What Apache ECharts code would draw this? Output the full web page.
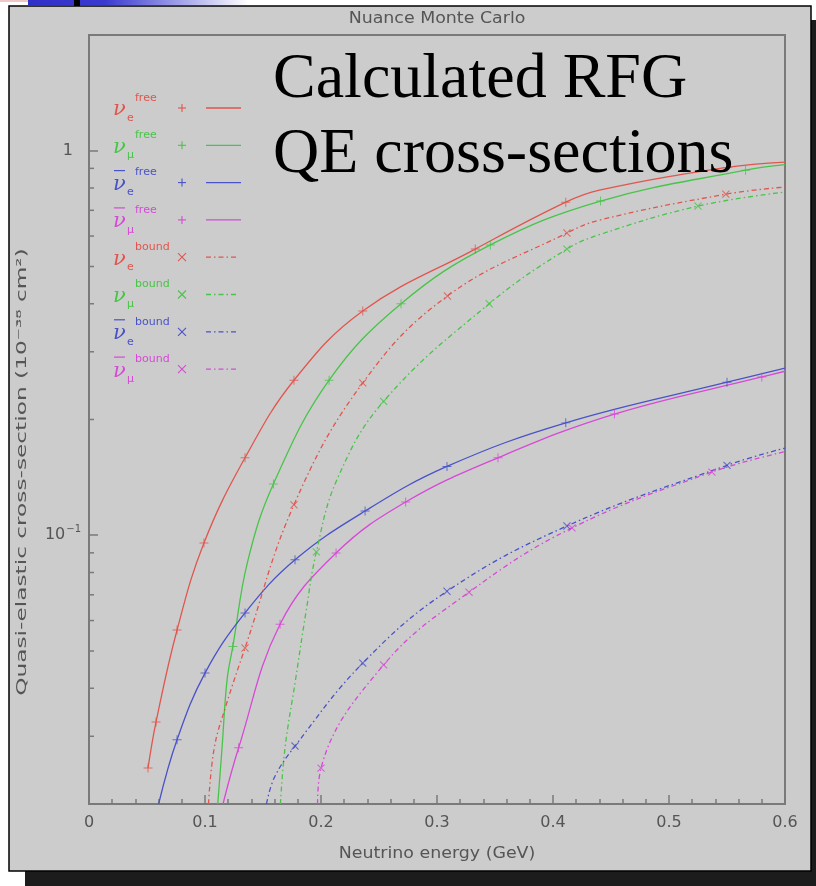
<!DOCTYPE html>
<html><head><meta charset="utf-8">
<script src="https://cdn.jsdelivr.net/npm/echarts@6/dist/echarts.min.js"></script>
<style>html,body{margin:0;padding:0;background:#fff}#c{width:816px;height:886px}</style>
</head><body><div id="c"></div>
<script>
// ---- data ----
const xTickLabels = {0:'0',0.1:'0.1',0.2:'0.2',0.3:'0.3',0.4:'0.4',0.5:'0.5',0.6:'0.6'};
const yMinorTicks = [0.03,0.04,0.05,0.06,0.07,0.08,0.09,0.2,0.3,0.4,0.5,0.6,0.7,0.8,0.9];
const seriesNames = ['nue_free','numu_free','nuebar_free','numubar_free','nue_bound','numu_bound','nuebar_bound','numubar_bound'];
const legendSub = ['e','μ','e','μ','e','μ','e','μ'];
const legendSup = ['free','free','free','free','bound','bound','bound','bound'];
const legendAnti = [false,false,true,true,false,false,true,true];

// calculated curves (energy GeV, cross-section 1e-38 cm^2)
const nueFreeCurve = [[0.0509,0.0248],[0.0578,0.0327],[0.0759,0.0567],[0.0991,0.0955],[0.1345,0.159],[0.1767,0.253],[0.236,0.383],[0.333,0.555],[0.411,0.735],[0.44,0.79],[0.55,0.905],[0.6,0.934]];
const numuFreeCurve = [[0.111,0.02],[0.1147,0.028],[0.119,0.042],[0.124,0.0514],[0.137,0.086],[0.159,0.136],[0.207,0.253],[0.269,0.40],[0.346,0.569],[0.441,0.74],[0.566,0.89],[0.6,0.92]];
const nuebarFreeCurve = [[0.060,0.02],[0.0759,0.0294],[0.100,0.0438],[0.1345,0.0628],[0.1776,0.0863],[0.238,0.1156],[0.3086,0.151],[0.411,0.196],[0.55,0.250],[0.6,0.272]];
const numubarFreeCurve = [[0.1155,0.02],[0.129,0.028],[0.1647,0.0587],[0.213,0.0899],[0.273,0.122],[0.3526,0.159],[0.453,0.2066],[0.58,0.258],[0.6,0.267]];
const nueBoundCurve = [[0.103,0.02],[0.108,0.028],[0.118,0.036],[0.1345,0.0509],[0.1767,0.12],[0.236,0.249],[0.309,0.419],[0.412,0.611],[0.44,0.66],[0.549,0.771],[0.6,0.805]];
const numuBoundCurve = [[0.165,0.02],[0.169,0.028],[0.178,0.042],[0.187,0.063],[0.196,0.0905],[0.214,0.14],[0.254,0.223],[0.345,0.40],[0.412,0.555],[0.44,0.605],[0.525,0.718],[0.6,0.781]];
const nuebarBoundCurve = [[0.153,0.02],[0.16,0.0235],[0.1776,0.0283],[0.236,0.0465],[0.3086,0.0715],[0.412,0.1057],[0.55,0.152],[0.6,0.1686]];
const numubarBoundCurve = [[0.197,0.02],[0.2,0.0248],[0.254,0.046],[0.3276,0.0711],[0.4164,0.1045],[0.537,0.146],[0.6,0.165]];

// Monte Carlo points
const nueFreePts = [[0.0509,0.0248],[0.0578,0.0327],[0.0759,0.0567],[0.0991,0.0955],[0.1345,0.159],[0.1767,0.253],[0.236,0.383],[0.333,0.555],[0.411,0.735],[0.55,0.905]];
const numuFreePts = [[0.124,0.0514],[0.159,0.136],[0.207,0.253],[0.269,0.40],[0.346,0.569],[0.441,0.74],[0.566,0.89]];
const nuebarFreePts = [[0.0759,0.0294],[0.100,0.0438],[0.1345,0.0628],[0.1776,0.0863],[0.238,0.1156],[0.3086,0.151],[0.411,0.196],[0.55,0.250]];
const numubarFreePts = [[0.129,0.028],[0.1647,0.0587],[0.213,0.0899],[0.273,0.122],[0.3526,0.159],[0.453,0.2066],[0.58,0.258]];
const nueBoundPts = [[0.1345,0.0509],[0.1767,0.12],[0.236,0.249],[0.309,0.419],[0.412,0.611],[0.549,0.771]];
const numuBoundPts = [[0.196,0.0905],[0.254,0.223],[0.345,0.40],[0.412,0.555],[0.525,0.718]];
const nuebarBoundPts = [[0.1776,0.0283],[0.236,0.0465],[0.3086,0.0715],[0.412,0.1057],[0.55,0.152]];
const numubarBoundPts = [[0.2,0.0248],[0.254,0.046],[0.3276,0.0711],[0.4164,0.1045],[0.537,0.146]];

const curves = [nueFreeCurve,numuFreeCurve,nuebarFreeCurve,numubarFreeCurve,nueBoundCurve,numuBoundCurve,nuebarBoundCurve,numubarBoundCurve];
const points = [nueFreePts,numuFreePts,nuebarFreePts,numubarFreePts,nueBoundPts,numuBoundPts,nuebarBoundPts,numubarBoundPts];

// ---- style ----
const colors = ['#e0564e','#48c448','#4a52c8','#d64ad6','#e0564e','#48c448','#4a52c8','#d64ad6'];
const plusPath = 'path://M4.45,0H5.55V4.45H10V5.55H5.55V10H4.45V5.55H0V4.45H4.45Z';
const G = {left:89, top:35, width:696, height:769};
const axisGray = '#7a7a7a';
const textGray = '#555';

const series = [];
curves.forEach((c,i)=>{
  const bound = i>=4;
  series.push({type:'line', name:seriesNames[i], data:c, showSymbol:false, smooth:0.4,
    lineStyle:{color:colors[i], width:1.3, type: bound ? [5,3,1.5,3] : 'solid'}, silent:true, z:3});
});
points.forEach((p,i)=>{
  const bound = i>=4;
  series.push({type:'scatter', name:seriesNames[i]+'_mc', data:p, symbol:plusPath, symbolSize: bound?10:9,
    symbolRotate: bound?45:0, itemStyle:{color:colors[i]}, silent:true, z:4});
});
series.push({type:'custom', data:yMinorTicks.map(v=>[0,v]), silent:true, clip:false, z:5,
  renderItem:(params, api)=>{
    const p = api.coord([0, api.value(1)]);
    return {type:'line', shape:{x1:p[0], y1:p[1], x2:p[0]+5, y2:p[1]}, style:{stroke:axisGray, lineWidth:1.5}};
  }});

// legend graphics
const legendEls = [];
const rowY0 = 108, rowDY = 37.3;
for (let i=0;i<8;i++){
  const y = rowY0 + i*rowDY;
  const col = colors[i];
  const bound = i>=4;
  legendEls.push({type:'text', x:113, y:y+2, style:{text:'ν', fill:col, font:'italic 21px "DejaVu Serif"', textVerticalAlign:'middle'}});
  legendEls.push({type:'text', x:127, y:y+10, style:{text:legendSub[i], fill:col, font:'11px "DejaVu Sans"', textVerticalAlign:'middle'}});
  legendEls.push({type:'text', x:135, y:y-10, style:{text:legendSup[i], fill:col, font:'11px "DejaVu Sans"', textVerticalAlign:'middle'}});
  if (legendAnti[i]) legendEls.push({type:'line', shape:{x1:114,y1:y-12,x2:125,y2:y-12}, style:{stroke:col, lineWidth:1.2}});
  const mx = 182;
  if (!bound){
    legendEls.push({type:'line', shape:{x1:mx-4,y1:y,x2:mx+4,y2:y}, style:{stroke:col, lineWidth:1.1}});
    legendEls.push({type:'line', shape:{x1:mx,y1:y-4,x2:mx,y2:y+4}, style:{stroke:col, lineWidth:1.1}});
    legendEls.push({type:'line', shape:{x1:206,y1:y,x2:241,y2:y}, style:{stroke:col, lineWidth:1.3}});
  } else {
    legendEls.push({type:'line', shape:{x1:mx-4,y1:y-4,x2:mx+4,y2:y+4}, style:{stroke:col, lineWidth:1.1}});
    legendEls.push({type:'line', shape:{x1:mx-4,y1:y+4,x2:mx+4,y2:y-4}, style:{stroke:col, lineWidth:1.1}});
    legendEls.push({type:'line', shape:{x1:206,y1:y,x2:238,y2:y}, style:{stroke:col, lineWidth:1.3, lineDash:[5,3,1.5,3]}});
  }
}

const chart = echarts.init(document.getElementById('c'), null, {renderer:'canvas'});
chart.setOption({
  backgroundColor:'#ffffff',
  animation:false,
  grid:{left:G.left, top:G.top, width:G.width, height:G.height, show:true, borderColor:axisGray, borderWidth:2, backgroundColor:'transparent'},
  xAxis:{type:'value', min:0, max:0.6, interval:0.1,
    axisLine:{lineStyle:{color:axisGray, width:2}},
    axisTick:{inside:true, length:9, lineStyle:{color:axisGray, width:1.5}},
    minorTick:{show:true, splitNumber:5, length:5, lineStyle:{color:axisGray, width:1.5}},
    splitLine:{show:false},
    axisLabel:{margin:11, color:textGray, fontFamily:'DejaVu Sans', fontSize:16,
      formatter:v=>{ const k=Math.round(v*10)/10; return xTickLabels[k] !== undefined ? xTickLabels[k] : ''; }},
  },
  yAxis:{type:'log', logBase:10, min:0.02, max:2,
    axisLine:{lineStyle:{color:axisGray, width:2}},
    axisTick:{inside:true, length:9, lineStyle:{color:axisGray, width:1.5}},
    splitLine:{show:false},
    axisLabel:{margin:8, color:textGray, fontFamily:'DejaVu Sans', fontSize:16,
      formatter:v=>{ if (Math.abs(v-1)<1e-9) return '{one|1}'; if (Math.abs(v-0.1)<1e-9) return '10{s|−1}'; return ''; },
      rich:{one:{fontSize:16, color:textGray, fontFamily:'DejaVu Sans', padding:[0,8,0,0]}, s:{fontSize:10, color:textGray, fontFamily:'DejaVu Sans', padding:[0,0,12,1]}}
    }
  },
  series: series,
  graphic:[
    {type:'rect', z:-20, shape:{x:25,y:20,width:791,height:866}, style:{fill:'#1c1c1c'}},
    {type:'rect', z:-19, shape:{x:9,y:6,width:802,height:865}, style:{fill:'#cccccc', stroke:'#000', lineWidth:1.5}},
    {type:'rect', z:-18, shape:{x:0,y:0,width:58,height:2}, style:{fill:'#f0c6c6'}},
    {type:'rect', z:-18, shape:{x:28,y:0,width:220,height:5}, style:{fill:new echarts.graphic.LinearGradient(0,0,1,0,[{offset:0,color:'#3030c8'},{offset:0.35,color:'#3a3ad0'},{offset:1,color:'#ffffff'}])}},
    {type:'rect', z:-17, shape:{x:74,y:0,width:6,height:6}, style:{fill:'#000'}},
    {type:'text', z:10, x:437, y:19, scaleX:1.16, style:{text:'Nuance Monte Carlo', fill:textGray, font:'15px "DejaVu Sans"', textAlign:'center', textVerticalAlign:'middle'}},
    {type:'text', z:10, x:22, y:472, rotation:Math.PI/2, scaleX:1.66, style:{text:'Quasi-elastic cross-section (10⁻³⁸ cm²)', fill:textGray, font:'14px "DejaVu Sans"', textAlign:'center', textVerticalAlign:'middle'}},
    {type:'text', z:10, x:437, y:854, scaleX:1.16, style:{text:'Neutrino energy (GeV)', fill:textGray, font:'15px "DejaVu Sans"', textAlign:'center', textVerticalAlign:'middle'}},
    {type:'text', z:100, x:273, y:80, style:{text:'Calculated RFG', fill:'#000', font:'64px "Liberation Serif"', textVerticalAlign:'middle'}},
    {type:'text', z:100, x:273, y:155, style:{text:'QE cross-sections', fill:'#000', font:'64px "Liberation Serif"', textVerticalAlign:'middle'}},
    {type:'group', z:6, children:legendEls}
  ]
});
</script></body></html>
